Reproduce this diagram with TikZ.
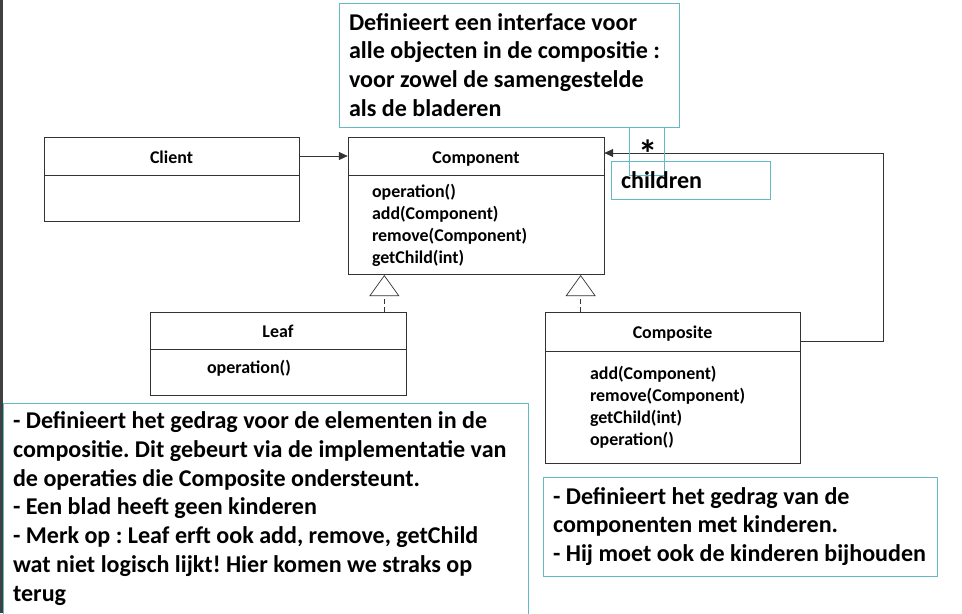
\documentclass[tikz,border=0pt]{standalone}
\usepackage{fontspec}
\setmainfont{Carlito}
\usepackage{xcolor}
\usepackage{tikz}
\usetikzlibrary{arrows.meta, positioning}
\definecolor{noteteal}{RGB}{100,185,198}
\frenchspacing
\hyphenpenalty=10000
\tikzset{
    umlhead/.style={draw=black!80, fill=white, font=\bfseries\fontsize{10.2}{12.5}\selectfont, inner sep=0pt, text height=8pt, text depth=0pt},
    umlbody/.style={draw=black!80, fill=white, font=\bfseries\fontsize{10.2}{12.5}\selectfont, align=flush left, inner ysep=0pt},
    note/.style={draw=noteteal, fill=white, font=\bfseries\fontsize{13.7}{16.4}\selectfont, align=flush left, inner xsep=0.2cm, inner ysep=0pt},
    assoc/.style={draw=black!80, -{Triangle[length=5pt, width=4.5pt]}},
    realize/.style={draw=black!80, dashed, dash pattern=on 2.5pt off 2pt, -{Triangle[open, length=0.42cm, width=0.6cm]}}
}

\begin{document}
\begin{tikzpicture}[x=0.02cm, y=-0.02cm]
    \useasboundingbox (0,0) rectangle (962,613);
    \clip (0,0) rectangle (962,613);
    \fill[black!75] (0,0) rectangle (3,613);

    % classes
    \node (clienthead) [umlhead, minimum width=5.1cm, minimum height=0.76cm] at (171.5,156) {Client};
    \node (clientbody) [umlbody, minimum width=5.1cm, minimum height=0.92cm, below=0pt of clienthead] {};
    \node (comphead) [umlhead, minimum width=5.12cm, minimum height=0.76cm] at (476,156) {Component};
    \node (compbody) [umlbody, inner xsep=0.48cm, text width=4.16cm, minimum height=1.98cm, below=0pt of comphead]
        {operation()\\add(Component)\\remove(Component)\\getChild(int)};
    \node (leafhead) [umlhead, minimum width=5.12cm, minimum height=0.74cm] at (278,330.5) {Leaf};
    \node (leafbody) [umlbody, inner xsep=1.14cm, text width=2.84cm, text height=7pt, text depth=6.5pt, minimum height=0.92cm, below=0pt of leafhead]
        {operation()};
    \node (cmpshead) [umlhead, minimum width=5.1cm, minimum height=0.78cm] at (672.5,331.5) {Composite};
    \node (cmpsbody) [umlbody, inner xsep=0.9cm, text width=3.3cm, minimum height=2.24cm, below=0pt of cmpshead]
        {add(Component)\\remove(Component)\\getChild(int)\\operation()};

    % relations
    \coordinate (turn) at (883,153);
    \draw [assoc] (clienthead) -- (comphead);
    \draw [assoc] ([yshift=-0.2cm]cmpshead.east) -| (turn) -- (turn -| comphead.east);
    \draw [realize] ([xshift=-0.44cm]leafhead.north east) -- ([xshift=-0.44cm]leafhead.north east |- compbody.south);
    \draw [realize] ([xshift=0.72cm]cmpshead.north west) -- ([xshift=0.72cm]cmpshead.north west |- compbody.south);

    % notes
    \node (topnote) [note, text width=6.4cm, minimum height=2.48cm] at (509,65)
        {Definieert een interface voor\\alle objecten in de compositie :\\voor zowel de samengestelde\\als de bladeren};
    \node (notelink) [draw=noteteal, minimum width=0.7cm, minimum height=0.96cm, inner sep=0pt] at (646.5,151) {};
    \node (children) [note, text width=2.78cm, minimum height=0.76cm, fill=none] at (690.5,180) {children};
    \node (star) [font=\bfseries\fontsize{22}{22}\selectfont, inner sep=0pt, text height=8pt, text depth=0pt] at (648,160) {*};
    \node (leafnote) [note, text width=10.1cm, minimum height=4.22cm] at (265.5,508.5)
        {- Definieert het gedrag voor de elementen in de\\compositie. Dit gebeurt via de implementatie van\\de operaties die Composite ondersteunt.\\- Een blad heeft geen kinderen\\- Merk op : Leaf erft ook add, remove, getChild\\wat niet logisch lijkt! Hier komen we straks op\\terug};
    \node (cmpsnote) [note, text width=7.48cm, minimum height=1.98cm] at (740,526.5)
        {- Definieert het gedrag van de\\componenten met kinderen.\\- Hij moet ook de kinderen bijhouden};
\end{tikzpicture}
\end{document}
